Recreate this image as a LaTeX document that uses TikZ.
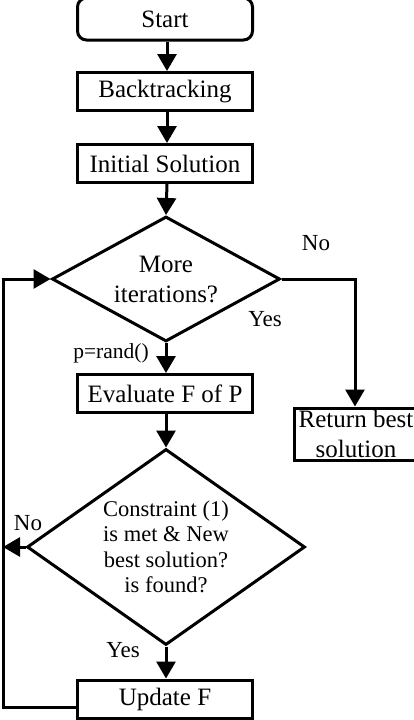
\documentclass[tikz,border=0pt]{standalone}
\usepackage{fontspec}
\setmainfont{Liberation Serif}
\usetikzlibrary{arrows.meta,shapes.geometric}
\begin{document}
\begin{tikzpicture}[x=1pt,y=-1pt,
  every node/.style={font=\fontsize{25}{30}\selectfont},
  procbox/.style={draw, line width=3pt, rectangle, minimum width=175pt, minimum height=38pt, inner sep=0pt},
  decbox/.style={draw, line width=3pt, diamond, inner sep=0pt, align=center},
  conn/.style={line width=3pt, -{Triangle[length=17pt,width=19pt]}},
  plain/.style={line width=3pt},
  lbl/.style={font=\fontsize{23}{27}\selectfont, inner sep=0pt}]
\useasboundingbox (0,0) rectangle (414,720);
\node[procbox, rounded corners=9pt, minimum height=42pt] (start) at (165,19) {Start};
\node[procbox] (back) at (165,91.5) {Backtracking};
\node[procbox] (init) at (165,163.5) {Initial Solution};
\node[decbox, minimum width=228pt, minimum height=125pt, shape aspect=1.82] (d1) at (166,279)
  {More\\iterations?};
\node[procbox] (eval) at (165,393.5) {Evaluate F of P};
\node[decbox, minimum width=278pt, minimum height=196pt, shape aspect=1.42,
  font=\fontsize{22.5}{25.5}\selectfont] (d2) at (166,547)
  {Constraint (1)\\is met \& New\\best solution?\\is found?};
\node[procbox] (upd) at (165,699) {Update F};
\node[draw, line width=3pt, minimum width=124pt, minimum height=52pt, inner sep=0pt, align=center] (ret) at (356,434)
  {Return best\\solution};
\node[lbl] (no1) at (316,243) {No};
\node[lbl] (yes1) at (265,319) {Yes};
\node[lbl, font=\fontsize{21.5}{25}\selectfont] (prand) at (111,353) {p=rand()};
\node[lbl] (no2) at (28,523) {No};
\node[lbl] (yes2) at (123,650) {Yes};
\coordinate (leftline) at (3,547);
\coordinate (updl) at (76,707);
\draw[conn] (start.south -| 167,0) -- (back.north -| 167,0);
\draw[conn] (back.south -| 167,0) -- (init.north -| 167,0);
\draw[conn] (init.south -| 167,0) -- (d1.north);
\draw[conn] (d1.south) -- (eval.north -| d1.south);
\draw[conn] (eval.south -| d2.north) -- (d2.north);
\draw[conn] (d2.south) -- (upd.north -| d2.south);
\draw[conn] (d1.east) -| (ret.north -| 355,0);
\draw[conn] (d2.west) -- (leftline);
\draw[plain] (updl) -- (3,707) -- (3,277.5);
\draw[conn] (1.5,279) -- (d1.west);
\end{tikzpicture}
\end{document}
